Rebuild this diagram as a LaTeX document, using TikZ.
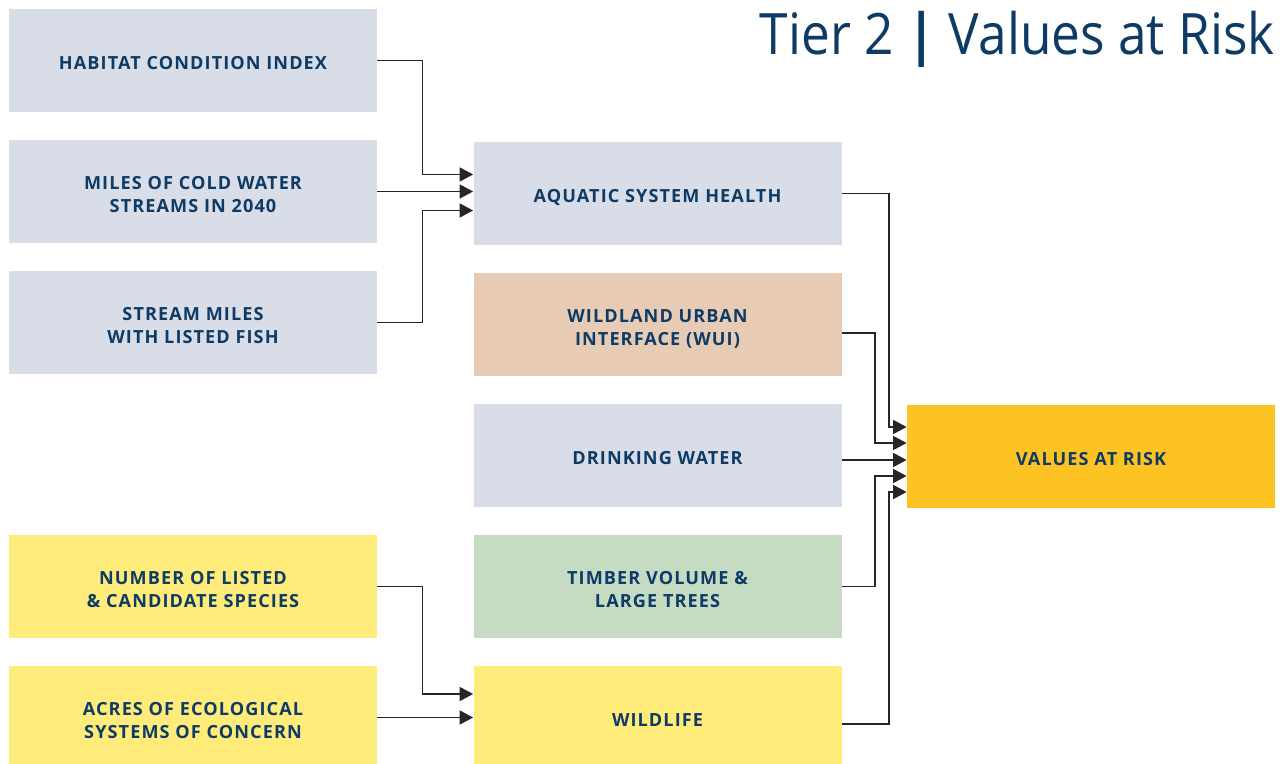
\documentclass[tikz,border=0pt]{standalone}
\usepackage{fontspec}
\setmainfont{Open Sans}
\newfontfamily\labelfont[LetterSpace=6]{Open Sans}
\newfontfamily\titlefont[FakeStretch=0.9]{Open Sans}
\usetikzlibrary{arrows.meta}

\definecolor{navy}{HTML}{0E3B65}
\definecolor{greyblue}{HTML}{D9DDE7}
\definecolor{peach}{HTML}{E8CBB5}
\definecolor{sage}{HTML}{C5DCC3}
\definecolor{lemon}{HTML}{FFEB7A}
\definecolor{amber}{HTML}{FDC322}

% centred label, set a little below the middle of its box
\newcommand{\boxtext}[1]{\raisebox{0pt}[\dimexpr\height+5.2pt\relax][\depth]{\begin{tabular}{@{}c@{}}#1\end{tabular}}}

\begin{document}
\begin{tikzpicture}[
    box/.style={minimum width=7.36cm, minimum height=2.06cm, inner sep=0pt, text=navy,
        font=\labelfont\fontsize{10.3}{13}\selectfont\bfseries},
    arr/.style={-{Triangle[length=0.27cm,width=0.28cm]}, line width=0.8pt, black!85}
]
            \useasboundingbox (0,0) rectangle (25.64,15.26);

            % Define the inputs
            \node[box, fill=greyblue] (L1) at (3.86,14.05) {\boxtext{HABITAT CONDITION INDEX}};
            \node[box, fill=greyblue] (L2) at (3.86,11.43) {\boxtext{MILES OF COLD WATER\\STREAMS IN 2040}};
            \node[box, fill=greyblue] (L3) at (3.86,8.81) {\boxtext{STREAM MILES\\WITH LISTED FISH}};
            \node[box, fill=lemon] (L4) at (3.86,3.53) {\boxtext{NUMBER OF LISTED\\\& CANDIDATE SPECIES}};
            \node[box, fill=lemon] (L5) at (3.86,0.91) {\boxtext{ACRES OF ECOLOGICAL\\SYSTEMS OF CONCERN}};

            % Define the values
            \node[box, fill=greyblue] (M1) at (13.15,11.39) {\boxtext{AQUATIC SYSTEM HEALTH}};
            \node[box, fill=peach] (M2) at (13.15,8.77) {\boxtext{WILDLAND URBAN\\INTERFACE (WUI)}};
            \node[box, fill=greyblue] (M3) at (13.15,6.15) {\boxtext{DRINKING WATER}};
            \node[box, fill=sage] (M4) at (13.15,3.53) {\boxtext{TIMBER VOLUME \&\\LARGE TREES}};
            \node[box, fill=lemon] (M5) at (13.15,0.91) {\boxtext{WILDLIFE}};

            \node[box, fill=amber] (R) at (21.82,6.13) {\boxtext{VALUES AT RISK}};

            % Title
            \node[anchor=base east, inner sep=0pt, text=navy, font=\titlefont\fontsize{32.5}{40}\selectfont]
                (title) at (25.5,14.16) {Tier 2 {\bfseries |} Values at Risk};

            % Arrow ends
            \coordinate (r1) at ([yshift=0.59cm]R.west);
            \coordinate (r2) at ([yshift=0.27cm]R.west);
            \coordinate (r3) at ([yshift=-0.07cm]R.west);
            \coordinate (r4) at ([yshift=-0.39cm]R.west);
            \coordinate (r5) at ([yshift=-0.71cm]R.west);
            \coordinate (w1) at ([yshift=0.47cm]M5.west);

            % Draw arrows
            \draw[arr] (L1.east) -- ++(0.9,0) |- ([yshift=0.38cm]M1.west);
            \draw[arr] (L2.east) -- (L2.east -| M1.west);
            \draw[arr] (L3.east) -- ++(0.9,0) |- ([yshift=-0.34cm]M1.west);

            \draw[arr] (L4.east) -- ++(0.9,0) |- (w1);
            \draw[arr] (L5.east) -- (M5.west);

            \draw[arr] (M1.east) -- ++(0.94,0) |- (r1);
            \draw[arr] ([yshift=-0.17cm]M2.east) -- ++(0.66,0) |- (r2);
            \draw[arr] (M3.east |- r3) -- (r3);
            \draw[arr] (M4.east) -- ++(0.66,0) |- (r4);
            \draw[arr] ([yshift=-0.13cm]M5.east) -- ++(0.94,0) |- (r5);
        \end{tikzpicture}
\end{document}
